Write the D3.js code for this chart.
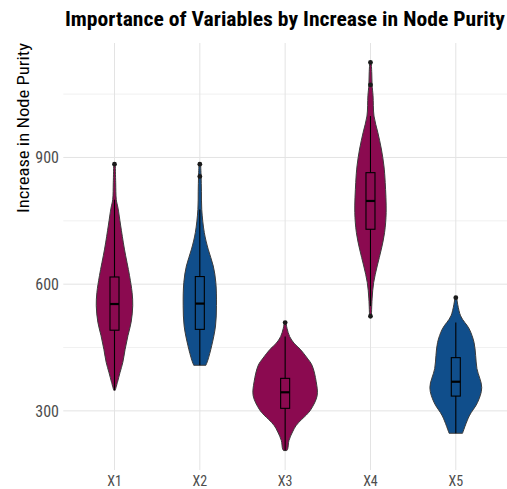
<!DOCTYPE html>
<html>
<head>
<meta charset="utf-8">
<script src="https://cdn.jsdelivr.net/npm/d3@7"></script>
<style>
  html, body { margin: 0; padding: 0; background: #ffffff; }
  svg { display: block; }
</style>
</head>
<body>
<svg id="chart" width="507" height="489"></svg>
<script>
// ---------------- data ----------------
const categories = ["X1", "X2", "X3", "X4", "X5"];
const yMajorTicks = [300, 600, 900];
const yMinorTicks = [450, 750, 1050];

// violin density profiles: [value, relative density]
const profileX1 = [[884,2.5],[840,3.75],[800,5.6],[780,11],[740,19],[683,31],[620,47],[580,55],[549,57],[510,52],[478,42],[445,33],[415,26],[390,17],[367,9],[349,2.5]];
const profileX2 = [[884,2.5],[855,4],[820,5],[777,6],[722,14],[683,26],[643,42],[604,50],[549,52],[501,49],[454,37],[420,25],[408,19]];
const profileX3 = [[509,2.5],[495,6],[476,14],[460,28],[446,47],[425,69],[408,84],[369,97],[336,100],[304,81],[290,66],[280,52],[265,34],[250,23],[230,12],[210,8],[206,5]];
const profileX4 = [[1125,2.5],[1100,4],[1072,5],[1046,8],[998,11],[959,23],[920,34],[880,42],[841,46],[770,49],[722,44],[683,34],[643,21],[604,10],[565,5],[524,3]];
const profileX5 = [[568,2.5],[525,15],[494,42],[462,57],[431,62],[400,66],[355,81],[320,68],[288,42],[247,21]];

// box statistics
const q1Values      = [491, 493, 306, 730, 335];
const medianValues  = [553, 554, 344, 797, 369];
const q3Values      = [617, 618, 377, 864, 426];
const whiskerLow    = [349, 408, 206, 548, 247];
const whiskerHigh   = [800, 777, 476, 998, 509];
const outlierValues = [[884], [884, 855], [509], [1125, 1072, 524], [568]];

// ---------------- drawing ----------------
const profiles = [profileX1, profileX2, profileX3, profileX4, profileX5];
const fills = ["#8B0A50", "#104E8B", "#8B0A50", "#8B0A50", "#104E8B"];
const narrow = "'Liberation Sans Narrow', 'Roboto Condensed', 'Arial Narrow', 'Liberation Sans', sans-serif";

const svg = d3.select("#chart");
const panel = { left: 63.3, right: 507, top: 43, bottom: 470 };

const x = d3.scalePoint().domain(categories).range([panel.left, panel.right]).padding(0.6);
const y = d3.scaleLinear().domain([160, 1171]).range([panel.bottom, panel.top]);
const w = d3.scaleLinear().domain([0, 100]).range([0, 32]);

// grid
const grid = svg.append("g");
grid.selectAll("line.minor").data(yMinorTicks).join("line")
  .attr("x1", panel.left).attr("x2", panel.right)
  .attr("y1", d => y(d)).attr("y2", d => y(d))
  .attr("stroke", "#ececec").attr("stroke-width", 0.8);
grid.selectAll("line.major").data(yMajorTicks).join("line")
  .attr("x1", panel.left).attr("x2", panel.right)
  .attr("y1", d => y(d)).attr("y2", d => y(d))
  .attr("stroke", "#e3e3e3").attr("stroke-width", 1);
grid.selectAll("line.vx").data(categories).join("line")
  .attr("x1", d => x(d)).attr("x2", d => x(d))
  .attr("y1", panel.top).attr("y2", panel.bottom)
  .attr("stroke", "#e3e3e3").attr("stroke-width", 1);

// violins
const g = svg.append("g");
categories.forEach((c, i) => {
  const cx = x(c);
  const area = d3.area()
    .y(d => y(d[0]))
    .x0(d => cx - w(d[1]))
    .x1(d => cx + w(d[1]))
    .curve(d3.curveCatmullRom);
  g.append("path")
    .datum(profiles[i])
    .attr("d", area)
    .attr("fill", fills[i])
    .attr("stroke", "#3c3c3c")
    .attr("stroke-width", 1);
});

// boxplots
const bw = 9;
categories.forEach((c, i) => {
  const cx = x(c);
  const bg = svg.append("g");
  bg.append("line")
    .attr("x1", cx).attr("x2", cx)
    .attr("y1", y(whiskerHigh[i])).attr("y2", y(q3Values[i]))
    .attr("stroke", "#000").attr("stroke-width", 1.1);
  bg.append("line")
    .attr("x1", cx).attr("x2", cx)
    .attr("y1", y(q1Values[i])).attr("y2", y(whiskerLow[i]))
    .attr("stroke", "#000").attr("stroke-width", 1.1);
  bg.append("rect")
    .attr("x", cx - bw / 2).attr("width", bw)
    .attr("y", y(q3Values[i])).attr("height", y(q1Values[i]) - y(q3Values[i]))
    .attr("fill", "none").attr("stroke", "#000").attr("stroke-width", 1.1);
  bg.append("line")
    .attr("x1", cx - bw / 2).attr("x2", cx + bw / 2)
    .attr("y1", y(medianValues[i])).attr("y2", y(medianValues[i]))
    .attr("stroke", "#000").attr("stroke-width", 2.2);
  bg.selectAll("circle").data(outlierValues[i]).join("circle")
    .attr("cx", cx).attr("cy", d => y(d)).attr("r", 2.4)
    .attr("fill", "#1a1a1a");
});

// axes labels
svg.append("g").selectAll("text").data(yMajorTicks).join("text")
  .attr("x", 59).attr("y", d => y(d)).attr("dy", "0.36em")
  .attr("text-anchor", "end")
  .attr("font-family", narrow).attr("font-size", 16)
  .attr("fill", "#4d4d4d")
  .text(d => d);

svg.append("g").selectAll("text").data(categories).join("text")
  .attr("x", d => x(d)).attr("y", 485.5)
  .attr("text-anchor", "middle")
  .attr("font-family", narrow).attr("font-size", 14)
  .attr("fill", "#4d4d4d")
  .text(d => d);

// titles
svg.append("text")
  .attr("x", 285).attr("y", 26)
  .attr("text-anchor", "middle")
  .attr("font-family", narrow).attr("font-size", 21).attr("font-weight", "bold")
  .attr("fill", "#000")
  .attr("textLength", 440).attr("lengthAdjust", "spacingAndGlyphs")
  .text("Importance of Variables by Increase in Node Purity");

svg.append("text")
  .attr("transform", "translate(29,43) rotate(-90)")
  .attr("text-anchor", "end")
  .attr("font-family", narrow).attr("font-size", 17)
  .attr("fill", "#000")
  .attr("textLength", 170).attr("lengthAdjust", "spacingAndGlyphs")
  .text("Increase in Node Purity");
</script>
</body>
</html>
